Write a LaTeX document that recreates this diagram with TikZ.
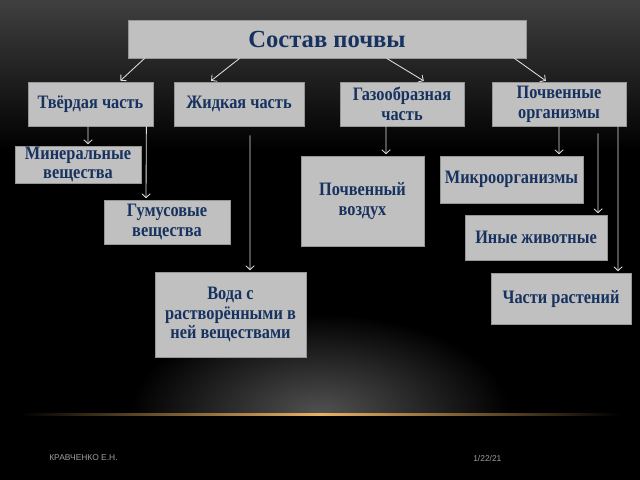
\documentclass[tikz,border=0pt]{standalone}
\usepackage{fontspec}
\setmainfont{Liberation Serif}
\newfontfamily\boxfont[FakeStretch=0.86]{Liberation Serif}
\newfontfamily\footfont{Liberation Sans}
\usepackage{tikz}
\usetikzlibrary{arrows.meta,calc,positioning}
\definecolor{boxgray}{RGB}{192,192,192}
\definecolor{boxedge}{RGB}{150,150,150}
\definecolor{textnavy}{RGB}{23,50,95}
\definecolor{glowgold}{RGB}{235,178,100}

\begin{document}
\begin{tikzpicture}[x=0.025cm, y=-0.025cm,
    box/.style={rectangle, draw=boxedge, fill=boxgray, line width=0.5pt, inner sep=0pt,
      align=center, text=textnavy, font=\boxfont\fontsize{13.5}{14}\selectfont\bfseries},
    arr/.style={white!88!black, line width=0.6pt, -{Straight Barb[length=2.8pt,width=6pt]}, shorten >=1pt},
    foot/.style={text=gray!75, font=\footfont\fontsize{6}{6}\selectfont, inner sep=0pt}]

    % background of the slide
    \fill[black] (0,0) rectangle (640,480);
    \shade[top color=black!75, bottom color=black] (0,0) rectangle (640,150);
    \begin{scope}
        \clip (0,300) rectangle (640,414);
        \shade[inner color=black!68, outer color=black] (320,414) ellipse (190 and 100);
    \end{scope}
    \shade[left color=black, right color=black, middle color=glowgold] (20,413) rectangle (620,415.5);

    \node[box, minimum width=9.95cm, minimum height=0.95cm,
          font=\fontsize{17.5}{19}\selectfont\bfseries] (sostav) at (327,39) {Состав почвы};

    \node[box, minimum width=3.125cm, minimum height=1.1cm] (tverd) at (90.5,104) {Твёрдая часть};
    \node[box, minimum width=3.25cm, minimum height=1.1cm] (zhidk) at (239,104) {Жидкая часть};
    \node[box, minimum width=3.1cm, minimum height=1.1cm] (gaz) at (402,104) {Газообразная\\часть};
    \node[box, minimum width=3.35cm, minimum height=1.1cm] (organ) at (559,104) {Почвенные\\организмы};

    \node[box, minimum width=3.15cm, minimum height=0.925cm] (mineral) at (78,164.5) {Минеральные\\вещества};
    \node[box, minimum width=3.15cm, minimum height=1.1cm] (gumus) at (167,222) {Гумусовые\\вещества};
    \node[box, minimum width=3.075cm, minimum height=2.25cm] (vozdukh) at (362.5,201) {Почвенный\\воздух};
    \node[box, minimum width=3.575cm, minimum height=1.175cm] (mikro) at (511.5,179.5) {Микроорганизмы};
    \node[box, minimum width=3.55cm, minimum height=1.125cm] (zhivot) at (536,237.5) {Иные животные};
    \node[box, minimum width=3.775cm, minimum height=2.125cm] (voda) at (230.5,314.5) {Вода с\\растворёнными в\\ней веществами};
    \node[box, minimum width=3.5cm, minimum height=1.275cm] (rasten) at (561,298.5) {Части растений};

    \draw[arr] ([xshift=0.425cm]sostav.south west) -- ([xshift=-0.85cm]tverd.north east);
    \draw[arr] ([xshift=2.8cm]sostav.south west) -- ([xshift=-0.725cm]zhidk.north);
    \draw[arr] ([xshift=6.475cm]sostav.south west) -- ([xshift=0.575cm]gaz.north);
    \draw[arr] ([xshift=-0.3cm]sostav.south east) -- ([xshift=-0.3cm]organ.north);

    \draw[arr] ([xshift=-0.0625cm]tverd.south) -- ([xshift=0.25cm]mineral.north);
    \draw[arr] ([xshift=-0.175cm]tverd.south east) -- ([xshift=-0.525cm]gumus.north);
    \draw[arr] ([xshift=0.275cm, yshift=-0.225cm]zhidk.south) -- ([xshift=0.4875cm]voda.north);
    \draw[arr] ([xshift=-0.4cm]gaz.south) -- ([xshift=0.5875cm]vozdukh.north);
    \draw[arr] (organ.south) -- ([xshift=1.1875cm]mikro.north);
    \draw[arr] ([xshift=0.975cm, yshift=-0.175cm]organ.south) -- ([xshift=1.55cm]zhivot.north);
    \draw[arr] ([xshift=1.475cm]organ.south) -- ([xshift=1.425cm]rasten.north);

    \node[foot, anchor=west] (avtor) at (49,458) {КРАВЧЕНКО Е.Н.};
    \node[foot, anchor=west] (data) at (473,458) {1/22/21};
\end{tikzpicture}
\end{document}
